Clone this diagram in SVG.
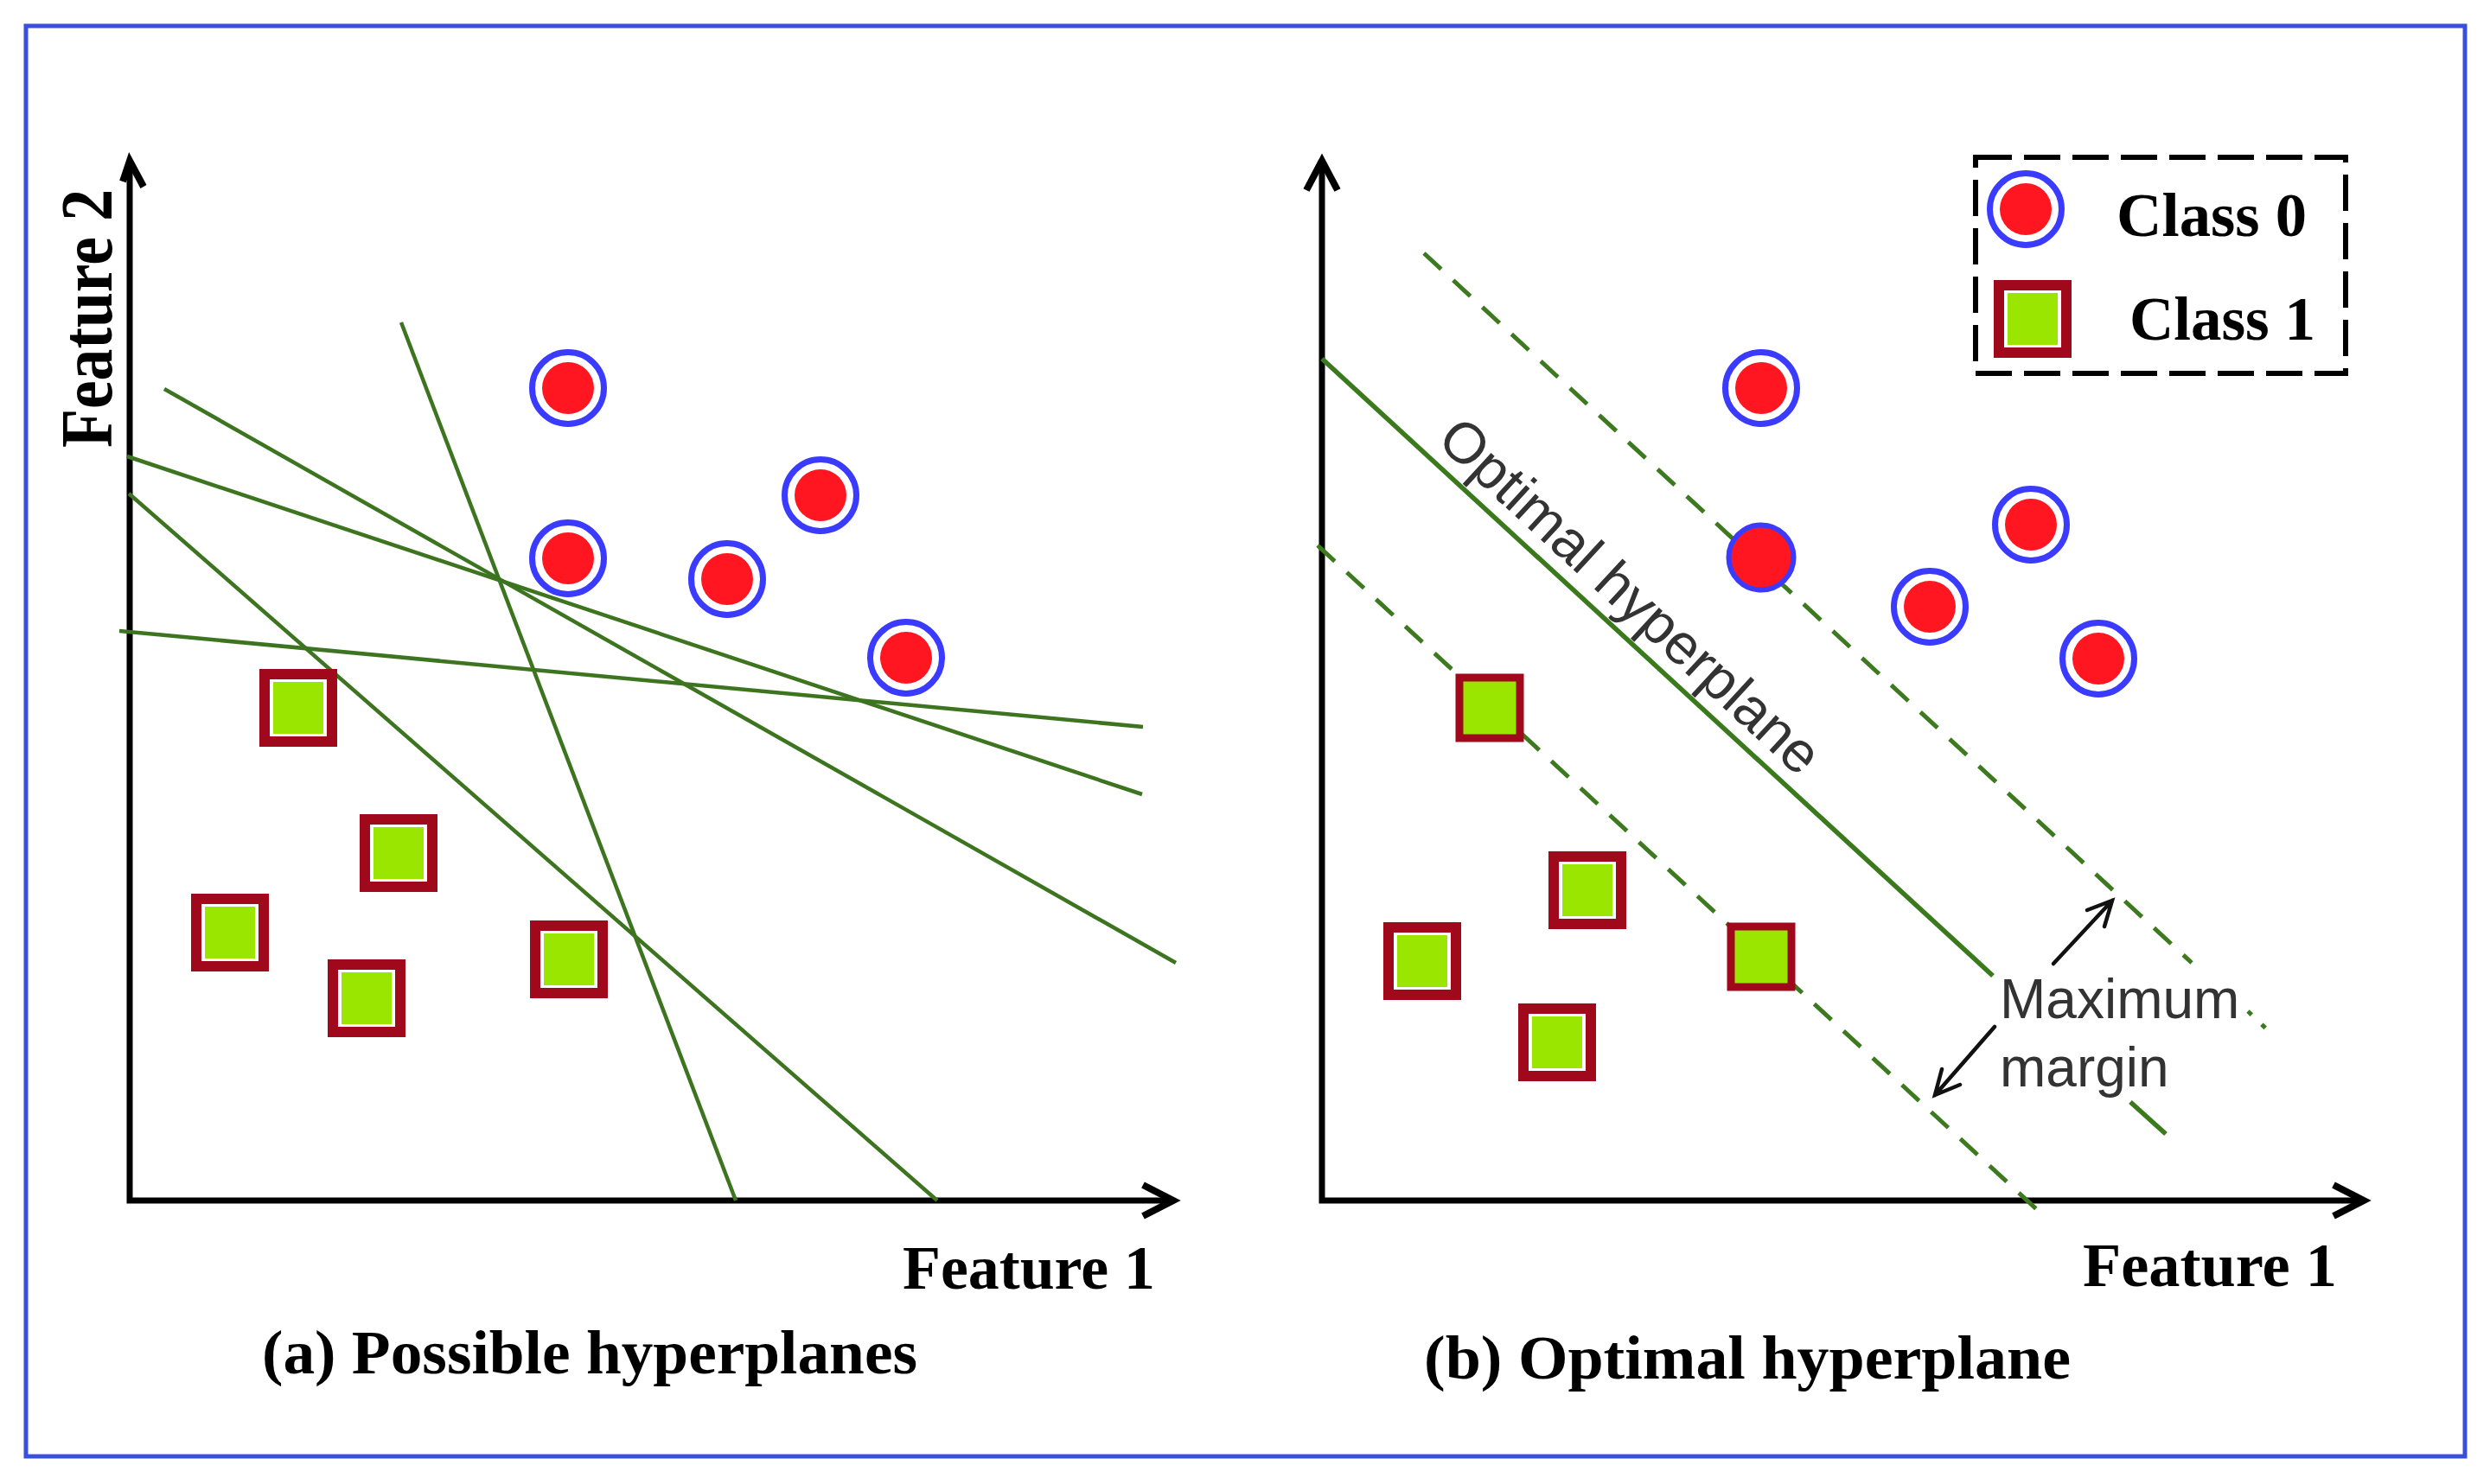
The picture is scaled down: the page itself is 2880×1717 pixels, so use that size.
<svg xmlns="http://www.w3.org/2000/svg" xmlns:xlink="http://www.w3.org/1999/xlink" width="2880" height="1717" viewBox="0 0 2880 1717">
<style>
.frame{fill:#fff;stroke:#3a50dc;stroke-width:5}
.axis{stroke:#000;stroke-width:7;fill:none;stroke-linecap:square}
.head{stroke:#000;stroke-width:8;fill:none;stroke-linejoin:miter}
.hp{stroke:#3d7420;stroke-width:4.5;fill:none}
.opt{stroke:#3a7a1c;stroke-width:5.5;fill:none}
.dash{stroke:#3d7a1f;stroke-width:5;fill:none;stroke-dasharray:27 19}
.ring{fill:#fff;stroke:#3b3bff;stroke-width:7}
.dot{fill:#ff1620}
.dotb{fill:#ff1620;stroke:#3b3bff;stroke-width:6}
.sq{fill:#fff;stroke:#a0081c;stroke-width:12}
.sqb{fill:#9be600;stroke:#a0081c;stroke-width:9}
.sqf{fill:#9be600}
.title{font-family:"Liberation Serif","Times New Roman",serif;font-weight:bold;font-size:72px;fill:#000}
.note{font-family:"Liberation Sans",Arial,sans-serif;font-size:64px;fill:#333}
.small-arrow{stroke:#111;stroke-width:4.5;fill:none;stroke-linecap:round}
.legend-box{fill:none;stroke:#000;stroke-width:6;stroke-dasharray:42 14}
</style>
<defs>
<g id="class0"><circle r="41.5" class="ring"/><circle r="30" class="dot"/></g>
<g id="class0b"><circle r="37.5" class="dotb"/></g>
<g id="class1"><rect x="-39" y="-39" width="78" height="78" class="sq"/><rect x="-29" y="-30" width="58" height="60" class="sqf"/></g>
<g id="class1b"><rect x="-35" y="-35" width="70" height="70" class="sqb"/></g>
</defs>

<rect class="frame" x="30" y="30" width="2821" height="1655"/>

<g id="axes">
<path class="axis" d="M150,190 V1389 H1350"/>
<path class="head" d="M1322,1371 L1357,1389 L1322,1407"/>
<path class="head" d="M142,210 L150,186 L166,216"/>
<path class="axis" d="M1529,192 V1389 H2728"/>
<path class="head" d="M2699,1371 L2734,1389 L2699,1407"/>
<path class="head" d="M1511,220 L1529,186 L1547,220"/>
</g>

<g id="connectors">
<line class="hp" x1="464" y1="373" x2="851" y2="1389"/>
<line class="hp" x1="190" y1="450" x2="1360" y2="1114"/>
<line class="hp" x1="147" y1="528" x2="1321" y2="919"/>
<line class="hp" x1="149" y1="571" x2="1084" y2="1389"/>
<line class="hp" x1="138" y1="730" x2="1322" y2="841"/>
<line class="opt" x1="1529" y1="415" x2="2305" y2="1129"/>
<line class="opt" x1="2464" y1="1275" x2="2505" y2="1312"/>
<line class="dash" x1="1647" y1="293" x2="2535" y2="1114"/>
<line class="dash" x1="2600" y1="1170" x2="2623" y2="1192" style="stroke-dasharray:6 16"/>
<line class="dash" x1="1524" y1="631" x2="2363" y2="1406"/>
<path class="small-arrow" d="M2375,1115 L2443,1042 M2414,1053 L2443,1042 L2434,1072"/>
<path class="small-arrow" d="M2307,1188 L2238,1267 M2246,1237 L2238,1267 L2267,1255"/>
</g>

<g id="panel-a-class0">
<g id="a-c1" transform="translate(657,449)"><use xlink:href="#class0"/></g>
<g id="a-c2" transform="translate(949,573)"><use xlink:href="#class0"/></g>
<g id="a-c3" transform="translate(657,646)"><use xlink:href="#class0"/></g>
<g id="a-c4" transform="translate(841,670)"><use xlink:href="#class0"/></g>
<g id="a-c5" transform="translate(1048,761)"><use xlink:href="#class0"/></g>
</g>
<g id="panel-a-class1">
<g id="a-s1" transform="translate(345,819)"><use xlink:href="#class1"/></g>
<g id="a-s2" transform="translate(461,987)"><use xlink:href="#class1"/></g>
<g id="a-s3" transform="translate(266,1079)"><use xlink:href="#class1"/></g>
<g id="a-s4" transform="translate(424,1155)"><use xlink:href="#class1"/></g>
<g id="a-s5" transform="translate(658,1110)"><use xlink:href="#class1"/></g>
</g>

<g id="panel-b-class0">
<g id="b-c1" transform="translate(2037,449)"><use xlink:href="#class0"/></g>
<g id="b-c2" transform="translate(2349,607)"><use xlink:href="#class0"/></g>
<g id="b-c3" transform="translate(2037,645)"><use xlink:href="#class0b"/></g>
<g id="b-c4" transform="translate(2232,702)"><use xlink:href="#class0"/></g>
<g id="b-c5" transform="translate(2427,762)"><use xlink:href="#class0"/></g>
</g>
<g id="panel-b-class1">
<g id="b-s1" transform="translate(1723,819)"><use xlink:href="#class1b"/></g>
<g id="b-s2" transform="translate(1836,1030)"><use xlink:href="#class1"/></g>
<g id="b-s3" transform="translate(1645,1112)"><use xlink:href="#class1"/></g>
<g id="b-s4" transform="translate(2037,1107)"><use xlink:href="#class1b"/></g>
<g id="b-s5" transform="translate(1801,1206)"><use xlink:href="#class1"/></g>
</g>

<g id="legend">
<rect class="legend-box" x="2285" y="182" width="428" height="250"/>
<g id="legend-c0" transform="translate(2343,242)"><use xlink:href="#class0"/></g>
<g id="legend-c1" transform="translate(2351,369)"><use xlink:href="#class1"/></g>
<text class="title" x="2448" y="273" textLength="220" lengthAdjust="spacingAndGlyphs">Class 0</text>
<text class="title" x="2463" y="393" textLength="215" lengthAdjust="spacingAndGlyphs">Class 1</text>
</g>

<g id="labels">
<text class="title" transform="translate(129,518) rotate(-90)" x="0" y="0" style="font-size:84px" textLength="299" lengthAdjust="spacingAndGlyphs">Feature 2</text>
<text class="title" x="1044" y="1491" textLength="292" lengthAdjust="spacingAndGlyphs">Feature 1</text>
<text class="title" x="2409" y="1488" textLength="294" lengthAdjust="spacingAndGlyphs">Feature 1</text>
<text class="title" x="303" y="1589" textLength="758" lengthAdjust="spacingAndGlyphs">(a) Possible hyperplanes</text>
<text class="title" x="1647" y="1595" textLength="748" lengthAdjust="spacingAndGlyphs">(b) Optimal hyperplane</text>
<text class="note" transform="translate(1660,512) rotate(42.65)" x="0" y="0" style="font-size:66px">Optimal hyperplane</text>
<text class="note" x="2313" y="1178">Maximum</text>
<text class="note" x="2313" y="1257">margin</text>
</g>
</svg>
